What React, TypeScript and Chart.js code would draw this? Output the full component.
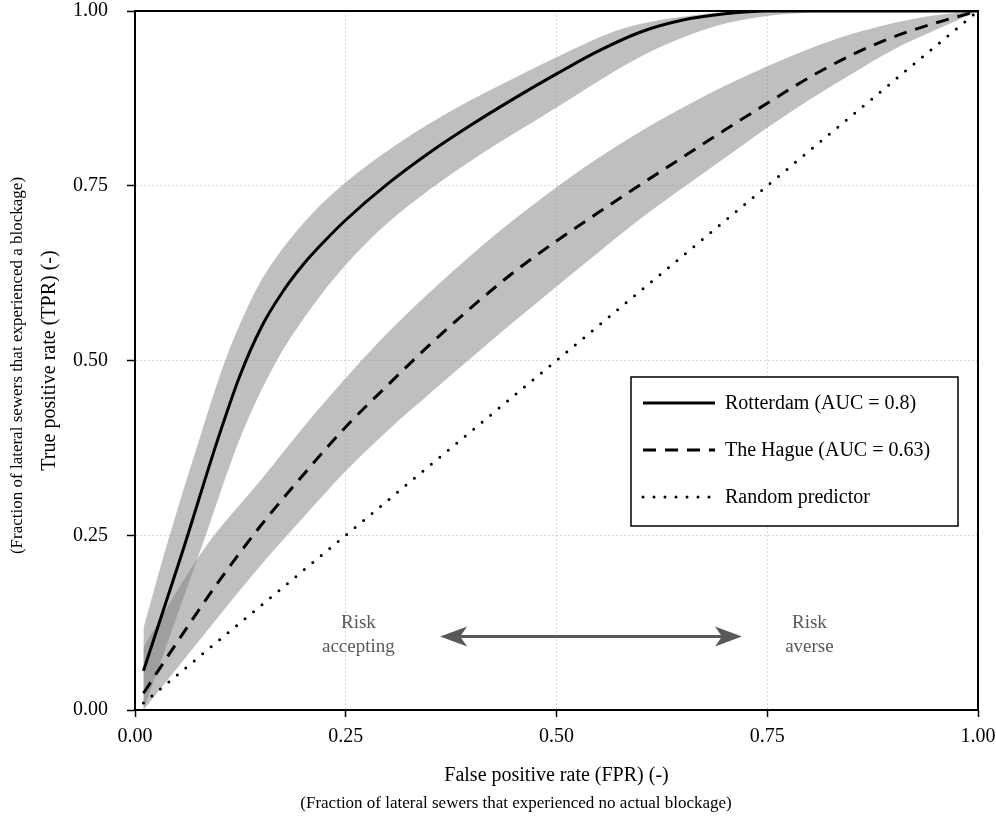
import React, { useEffect, useRef } from 'react';
import { Chart, registerables } from 'chart.js';

Chart.register(...registerables);

const FONT = '"Liberation Serif", "Times New Roman", serif';

// ---- axis ticks ----
const axisTicks = [0, 0.25, 0.5, 0.75, 1];

// ---- Rotterdam ROC (mean) ----
const rotterdamFpr = [0.01, 0.057, 0.099, 0.125, 0.15, 0.175, 0.2, 0.225, 0.25, 0.3, 0.35, 0.4, 0.45, 0.5, 0.55, 0.6, 0.65, 0.7, 0.75, 0.85, 1.0];
const rotterdamTpr = [0.056, 0.229, 0.39, 0.48, 0.548, 0.598, 0.638, 0.671, 0.701, 0.753, 0.798, 0.838, 0.875, 0.91, 0.943, 0.97, 0.987, 0.996, 1.0, 1.0, 1.0];

// ---- Rotterdam band ----
const rotterdamUpperFpr = [0.01, 0.036, 0.077, 0.107, 0.13, 0.15, 0.175, 0.21, 0.25, 0.314, 0.382, 0.453, 0.5, 0.579, 0.67, 0.73, 1.0];
const rotterdamUpperTpr = [0.117, 0.229, 0.39, 0.5, 0.567, 0.615, 0.66, 0.71, 0.755, 0.812, 0.862, 0.906, 0.934, 0.975, 0.995, 1.0, 1.0];
const rotterdamLowerFpr = [0.01, 0.081, 0.125, 0.166, 0.2, 0.25, 0.3, 0.35, 0.4, 0.45, 0.5, 0.55, 0.6, 0.65, 0.7, 0.75, 0.8, 0.85, 1.0];
const rotterdamLowerTpr = [0.0, 0.24, 0.39, 0.495, 0.56, 0.637, 0.697, 0.745, 0.787, 0.825, 0.862, 0.9, 0.935, 0.962, 0.982, 0.993, 0.998, 1.0, 1.0];

// ---- The Hague ROC (mean) ----
const hagueFpr = [0.01, 0.05, 0.1, 0.15, 0.2, 0.25, 0.3, 0.35, 0.4, 0.45, 0.5, 0.55, 0.6, 0.65, 0.7, 0.75, 0.8, 0.85, 0.9, 0.95, 1.0];
const hagueTpr = [0.024, 0.097, 0.185, 0.265, 0.337, 0.405, 0.465, 0.523, 0.577, 0.627, 0.671, 0.712, 0.752, 0.791, 0.83, 0.868, 0.905, 0.937, 0.963, 0.983, 1.0];

// ---- The Hague band ----
const hagueUpperFpr = [0.01, 0.081, 0.15, 0.2, 0.25, 0.3, 0.35, 0.4, 0.45, 0.5, 0.55, 0.6, 0.65, 0.7, 0.75, 0.8, 0.85, 0.9, 0.95, 1.0];
const hagueUpperTpr = [0.09, 0.229, 0.33, 0.405, 0.475, 0.54, 0.598, 0.652, 0.702, 0.748, 0.79, 0.828, 0.862, 0.893, 0.921, 0.946, 0.967, 0.983, 0.994, 1.0];
const hagueLowerFpr = [0.01, 0.1, 0.15, 0.2, 0.25, 0.3, 0.35, 0.4, 0.45, 0.5, 0.55, 0.6, 0.65, 0.7, 0.75, 0.8, 0.85, 0.9, 0.95, 1.0];
const hagueLowerTpr = [0.0, 0.135, 0.208, 0.276, 0.342, 0.4, 0.453, 0.505, 0.556, 0.606, 0.655, 0.703, 0.747, 0.79, 0.833, 0.873, 0.91, 0.945, 0.973, 1.0];

// ---- Random predictor ----
const randomFpr = [0.01, 1.0];
const randomTpr = [0.01, 1.0];

// ---- texts ----
const seriesLabels = ['Rotterdam (AUC = 0.8)', 'The Hague (AUC = 0.63)', 'Random predictor'];
const xTitle = 'False positive rate (FPR) (-)';
const xSubtitle = '(Fraction of lateral sewers that experienced no actual blockage)';
const yTitle = 'True positive rate (TPR) (-)';
const ySubtitle = '(Fraction of lateral sewers that experienced a blockage)';
const riskLeftLines = ['Risk', 'accepting'];
const riskRightLines = ['Risk', 'averse'];

// annotation anchors in data units
const riskLeftFpr = 0.265;
const riskRightFpr = 0.8;
const riskLineTpr = [0.1245, 0.0895];
const arrowFromFpr = 0.362;
const arrowToFpr = 0.72;
const arrowTpr = 0.105;

const BAND = 'rgba(128,128,128,0.5)';

const zip = (xs: number[], ys: number[]) => xs.map((x, i) => ({ x, y: ys[i] }));

const lineStyles = [
  { borderDash: [] as number[], cap: 'butt' as CanvasLineCap },
  { borderDash: [13, 9], cap: 'butt' as CanvasLineCap },
  { borderDash: [0, 11], cap: 'round' as CanvasLineCap },
];

const framePlugin = {
  id: 'frame',
  afterDatasetsDraw(chart: any) {
    const { ctx, chartArea: a } = chart;
    ctx.save();
    ctx.strokeStyle = '#000';
    ctx.lineWidth = 2;
    ctx.beginPath();
    ctx.moveTo(a.left, a.top);
    ctx.lineTo(a.right, a.top);
    ctx.lineTo(a.right, a.bottom);
    ctx.stroke();
    ctx.restore();
  },
};

const decorPlugin = {
  id: 'decor',
  afterDraw(chart: any) {
    const { ctx, chartArea: a } = chart;
    const xs = chart.scales.x;
    const ys = chart.scales.y;
    ctx.save();
    // axis titles
    ctx.fillStyle = '#000';
    ctx.textAlign = 'center';
    ctx.textBaseline = 'middle';
    const cx = (a.left + a.right) / 2;
    ctx.font = `20px ${FONT}`;
    ctx.fillText(xTitle, cx, 776);
    ctx.font = `17px ${FONT}`;
    ctx.fillText(xSubtitle, 516, 804);
    const cy = (a.top + a.bottom) / 2;
    ctx.save();
    ctx.translate(50, cy);
    ctx.rotate(-Math.PI / 2);
    ctx.font = `20px ${FONT}`;
    ctx.fillText(yTitle, 0, 0);
    ctx.restore();
    ctx.save();
    ctx.translate(18, cy + 5);
    ctx.rotate(-Math.PI / 2);
    ctx.font = `17px ${FONT}`;
    ctx.fillText(ySubtitle, 0, 0);
    ctx.restore();

    // risk texts
    ctx.fillStyle = '#595959';
    ctx.font = `19px ${FONT}`;
    riskLeftLines.forEach((t, i) => ctx.fillText(t, xs.getPixelForValue(riskLeftFpr), ys.getPixelForValue(riskLineTpr[i])));
    riskRightLines.forEach((t, i) => ctx.fillText(t, xs.getPixelForValue(riskRightFpr), ys.getPixelForValue(riskLineTpr[i])));

    // double arrow
    const x1 = xs.getPixelForValue(arrowFromFpr);
    const x2 = xs.getPixelForValue(arrowToFpr);
    const y = ys.getPixelForValue(arrowTpr);
    const hl = 27, hw = 10, notch = 20;
    ctx.strokeStyle = '#595959';
    ctx.lineWidth = 3;
    ctx.beginPath();
    ctx.moveTo(x1 + notch, y);
    ctx.lineTo(x2 - notch, y);
    ctx.stroke();
    ctx.beginPath();
    ctx.moveTo(x1, y);
    ctx.lineTo(x1 + hl, y - hw);
    ctx.lineTo(x1 + notch, y);
    ctx.lineTo(x1 + hl, y + hw);
    ctx.closePath();
    ctx.moveTo(x2, y);
    ctx.lineTo(x2 - hl, y - hw);
    ctx.lineTo(x2 - notch, y);
    ctx.lineTo(x2 - hl, y + hw);
    ctx.closePath();
    ctx.fill();

    // legend
    const L = { left: 631, top: 377, w: 327, h: 149 };
    ctx.fillStyle = '#fff';
    ctx.fillRect(L.left, L.top, L.w, L.h);
    ctx.strokeStyle = '#000';
    ctx.lineWidth = 1.5;
    ctx.strokeRect(L.left, L.top, L.w, L.h);
    const rows = [403, 450, 497];
    ctx.textAlign = 'left';
    ctx.font = `20px ${FONT}`;
    seriesLabels.forEach((lab, i) => {
      ctx.save();
      ctx.strokeStyle = '#000';
      ctx.lineWidth = 3;
      ctx.lineCap = lineStyles[i].cap;
      ctx.setLineDash(lineStyles[i].borderDash);
      ctx.beginPath();
      ctx.moveTo(643, rows[i]);
      ctx.lineTo(715, rows[i]);
      ctx.stroke();
      ctx.restore();
      ctx.fillStyle = '#000';
      ctx.fillText(lab, 725, rows[i] + 1);
    });
    ctx.restore();
  },
};

const zeroPadding = (s: any) => {
  s.paddingTop = 0;
  s.paddingBottom = 0;
  s.paddingLeft = 0;
  s.paddingRight = 0;
};

export default function App() {
  const ref = useRef<HTMLCanvasElement | null>(null);
  useEffect(() => {
    document.body.style.margin = '0';
    const canvas = ref.current;
    if (!canvas) return;
    const tickFont = { family: FONT, size: 20 };
    const bandEdge = (label: string, xs: number[], ys: number[], fill: any, order: number) => ({
      label,
      data: zip(xs, ys),
      borderColor: 'transparent',
      borderWidth: 0,
      backgroundColor: BAND,
      pointRadius: 0,
      fill,
      cubicInterpolationMode: 'monotone',
      order,
    });
    const chart = new Chart(canvas, {
      type: 'line',
      data: {
        datasets: [
          {
            label: seriesLabels[0],
            data: zip(rotterdamFpr, rotterdamTpr),
            borderColor: '#000',
            borderWidth: 3,
            pointRadius: 0,
            fill: false,
            cubicInterpolationMode: 'monotone',
            order: 0,
          },
          {
            label: seriesLabels[1],
            data: zip(hagueFpr, hagueTpr),
            borderColor: '#000',
            borderWidth: 3,
            borderDash: lineStyles[1].borderDash,
            pointRadius: 0,
            fill: false,
            cubicInterpolationMode: 'monotone',
            order: 1,
          },
          {
            label: seriesLabels[2],
            data: zip(randomFpr, randomTpr),
            borderColor: '#000',
            borderWidth: 3,
            borderDash: lineStyles[2].borderDash,
            borderCapStyle: 'round',
            pointRadius: 0,
            fill: false,
            order: 2,
          },
          bandEdge('Rotterdam upper', rotterdamUpperFpr, rotterdamUpperTpr, '+1', 3),
          bandEdge('Rotterdam lower', rotterdamLowerFpr, rotterdamLowerTpr, false, 4),
          bandEdge('Hague upper', hagueUpperFpr, hagueUpperTpr, '+1', 5),
          bandEdge('Hague lower', hagueLowerFpr, hagueLowerTpr, false, 6),
        ],
      },
      options: {
        responsive: false,
        animation: false,
        devicePixelRatio: 1,
        layout: { autoPadding: false, padding: { top: 11, right: 18, left: 0, bottom: 0 } },
        plugins: { legend: { display: false }, tooltip: { enabled: false } },
        scales: {
          x: {
            type: 'linear',
            min: 0,
            max: 1,
            afterBuildTicks: (s: any) => {
              s.ticks = axisTicks.map((v) => ({ value: v }));
            },
            afterFit: (s: any) => {
              s.height = 108;
              zeroPadding(s);
            },
            ticks: {
              callback: (v: any) => Number(v).toFixed(2),
              font: tickFont,
              color: '#000',
              padding: 8,
              maxRotation: 0,
              autoSkip: false,
            },
            grid: { color: 'rgba(0,0,0,0.15)', lineWidth: 1, tickColor: '#000', tickLength: 7, tickWidth: 1.5 },
            border: { color: '#000', width: 2, dash: [2, 2] },
          },
          y: {
            type: 'linear',
            min: 0,
            max: 1,
            afterBuildTicks: (s: any) => {
              s.ticks = axisTicks.map((v) => ({ value: v }));
            },
            afterFit: (s: any) => {
              s.width = 135;
              zeroPadding(s);
            },
            ticks: {
              callback: (v: any) => Number(v).toFixed(2),
              font: tickFont,
              color: '#000',
              padding: 19,
              autoSkip: false,
            },
            grid: { color: 'rgba(0,0,0,0.15)', lineWidth: 1, tickColor: '#000', tickLength: 8, tickWidth: 1.5 },
            border: { color: '#000', width: 2, dash: [2, 2] },
          },
        },
      },
      plugins: [framePlugin, decorPlugin],
    } as any);
    return () => chart.destroy();
  }, []);
  return <canvas ref={ref} width={996} height={818} style={{ display: 'block' }} />;
}
